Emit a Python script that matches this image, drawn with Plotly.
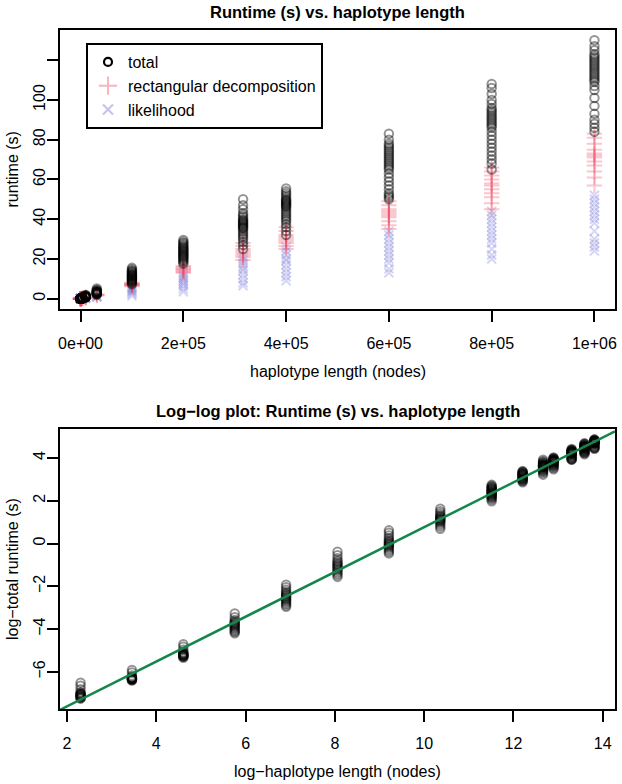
import numpy as np
import plotly.graph_objects as go

# ---------------- data ----------------
lengths = [10, 31.62, 100, 316.2, 1000, 3162, 10000, 31623, 100000, 200000,
           316228, 400000, 600000, 800000, 1000000]

total_runtime = [
    [0.00071, 0.00073, 0.00075, 0.00077, 0.00079, 0.00081, 0.00083, 0.00085, 0.00087,
     0.00089, 0.00092, 0.00096, 0.0011, 0.0013, 0.0015],
    [0.00166, 0.00169, 0.00172, 0.00175, 0.00177, 0.00179, 0.00181, 0.00183, 0.00185,
     0.00188, 0.00191, 0.00195, 0.0021, 0.0024, 0.0027],
    [0.0048, 0.0050, 0.0051, 0.0052, 0.0053, 0.0054, 0.0055, 0.0056, 0.0057, 0.0058,
     0.0060, 0.0063, 0.0070, 0.0080, 0.0090],
    [0.015, 0.016, 0.017, 0.018, 0.019, 0.020, 0.021, 0.022, 0.023, 0.024, 0.025,
     0.026, 0.028, 0.032, 0.038],
    [0.052, 0.056, 0.060, 0.064, 0.068, 0.072, 0.076, 0.080, 0.084, 0.088, 0.093,
     0.098, 0.105, 0.115, 0.13, 0.145],
    [0.21, 0.23, 0.25, 0.27, 0.29, 0.31, 0.33, 0.35, 0.37, 0.39, 0.42, 0.45, 0.50,
     0.58, 0.68],
    [0.63, 0.68, 0.74, 0.80, 0.85, 0.90, 0.94, 0.98, 1.02, 1.07, 1.12, 1.2, 1.3, 1.45,
     1.65, 1.85],
    [2.0, 2.2, 2.4, 2.6, 2.75, 2.9, 3.0, 3.1, 3.2, 3.3, 3.45, 3.6, 3.8, 4.1, 4.5, 5.1],
    [7.2, 7.8, 8.3, 8.7, 9.0, 9.3, 9.6, 9.9, 10.2, 10.5, 10.8, 11.1, 11.4, 11.7,
     12.0, 12.3, 12.6, 13.0, 13.4, 13.8, 14.2, 14.8, 15.5],
    [17.5, 18.3, 19.0, 19.6, 20.2, 20.7, 21.2, 21.7, 22.2, 22.7, 23.2, 23.7, 24.2,
     24.7, 25.2, 25.7, 26.2, 26.8, 27.4, 28.0, 28.7, 29.5],
    [25, 27, 28.5, 30, 31, 32, 33, 34, 35, 35.5, 36, 36.5, 37, 37.5, 38, 38.5, 39,
     39.5, 40, 41, 42, 43, 45, 47, 50],
    [32, 34, 36, 37.5, 39, 40, 41, 42, 43, 44, 45, 46, 46.5, 47, 47.5, 48, 48.5, 49,
     49.5, 50, 51, 52, 53, 54, 55.5],
    [50, 51, 52, 53, 55, 57, 59, 61, 63, 65, 66, 67, 68, 69, 70, 71, 72, 73, 74, 75,
     76, 77, 78, 80, 83],
    [65, 68, 70, 72, 74, 76, 78, 80, 82, 84, 86, 87, 88, 89, 90, 91, 92, 93, 94, 95,
     96, 98, 100, 103, 106, 108],
    [84, 86, 88, 90, 93, 97, 101, 105, 107, 109, 110, 111, 112, 113, 114, 115, 116,
     117, 118, 119, 120, 121, 122, 123, 125, 127, 130],
]

decomp_runtime = [
    [0.0003, 0.0004, 0.0005],
    [0.0008, 0.0009, 0.0010],
    [0.0020, 0.0025, 0.0030],
    [0.008, 0.010, 0.012],
    [0.030, 0.035, 0.040],
    [0.12, 0.15, 0.18],
    [0.45, 0.55, 0.65],
    [1.6, 1.9, 2.2],
    [6.3, 6.6, 6.9, 7.1, 7.3, 7.6, 8.0],
    [13.0, 13.6, 14.2, 14.7, 15.2, 15.8, 16.5],
    [19.5, 21, 22, 23, 24, 25, 26.5, 28],
    [25, 26.5, 28, 29, 30, 31, 32, 34, 36],
    [35, 37, 39, 41, 42, 43, 44, 45, 47, 49],
    [45, 48, 51, 53, 55, 57, 58, 60, 62, 64, 66],
    [57, 61, 64, 67, 69, 71, 72, 73, 75, 78, 81, 83],
]

likelihood_runtime = [
    [0.0002, 0.00025, 0.0003],
    [0.0005, 0.0006, 0.0007],
    [0.0015, 0.0020, 0.0025],
    [0.005, 0.006, 0.007],
    [0.015, 0.020, 0.025],
    [0.06, 0.08, 0.10],
    [0.2, 0.3, 0.4],
    [0.8, 1.0, 1.3],
    [1.5, 2.5, 3.2, 3.8, 4.5, 5.2, 6.0],
    [3.5, 5, 6.5, 7.5, 8.5, 9.5, 10.5, 11.5, 13],
    [6.5, 8, 10, 12, 14, 15, 16.5, 18, 19.5, 21],
    [9, 11, 13, 15, 17, 19, 20, 22, 24, 26],
    [13, 15, 18, 20, 22, 24, 26, 28, 30, 32, 34],
    [20, 22, 25, 28, 30, 32, 34, 36, 38, 40, 42, 44],
    [24, 26, 28, 30, 34, 38, 40, 42, 44, 46, 48, 50, 52],
]

top_x_tickvals = [0, 200000, 400000, 600000, 800000, 1000000]
top_x_ticktext = ["0e+00", "2e+05", "4e+05", "6e+05", "8e+05", "1e+06"]
top_y_tickvals = [0, 20, 40, 60, 80, 100, 120]
top_y_ticktext = ["0", "20", "40", "60", "80", "100", ""]
bot_x_tickvals = [2, 4, 6, 8, 10, 12, 14]
bot_y_tickvals = [-6, -4, -2, 0, 2, 4]
legend_labels = ["total", "rectangular decomposition", "likelihood"]

# ---------------- helpers ----------------
W, H = 622, 784


def flat(series):
    xs, ys = [], []
    for L, vals in zip(lengths, series):
        xs += [L] * len(vals)
        ys += list(vals)
    return np.array(xs, float), np.array(ys, float)


def rrange(a, b):
    d = b - a
    return [a - 0.04 * d, b + 0.04 * d]


def px(x):
    return x / W


def py(y):
    return 1 - y / H


tx, ty = flat(total_runtime)
dx, dy = flat(decomp_runtime)
lx, ly = flat(likelihood_runtime)

logx, logy = np.log(tx), np.log(ty)
slope, intercept = np.polyfit(logx, logy, 1)

BLACK = "rgba(0,0,0,0.42)"
PINK = "rgba(240,70,95,0.30)"
LAV = "rgba(110,110,215,0.28)"
FONT = "Liberation Sans, Arial, sans-serif"

fig = go.Figure()

# top panel (likelihood and decomposition drawn under the totals)
fig.add_trace(go.Scatter(x=lx, y=ly, mode="markers", showlegend=False,
                         marker=dict(symbol="x-thin-open", size=9,
                                     line=dict(color=LAV, width=2), color=LAV),
                         xaxis="x", yaxis="y"))
fig.add_trace(go.Scatter(x=dx, y=dy, mode="markers", showlegend=False,
                         marker=dict(symbol="cross-thin-open", size=11,
                                     line=dict(color=PINK, width=2), color=PINK),
                         xaxis="x", yaxis="y"))
fig.add_trace(go.Scatter(x=tx, y=ty, mode="markers", showlegend=False,
                         marker=dict(symbol="circle-open", size=8.5,
                                     line=dict(color=BLACK, width=2), color=BLACK),
                         xaxis="x", yaxis="y"))

# legend entries
fig.add_trace(go.Scatter(x=[None], y=[None], mode="markers", name=legend_labels[0],
                         marker=dict(symbol="circle-open", size=8,
                                     line=dict(color="black", width=2.2), color="black"),
                         xaxis="x", yaxis="y"))
fig.add_trace(go.Scatter(x=[None], y=[None], mode="markers", name=legend_labels[1],
                         marker=dict(symbol="cross-thin-open", size=13,
                                     line=dict(color="rgba(240,90,110,0.45)", width=2),
                                     color="rgba(240,90,110,0.45)"),
                         xaxis="x", yaxis="y"))
fig.add_trace(go.Scatter(x=[None], y=[None], mode="markers", name=legend_labels[2],
                         marker=dict(symbol="x-thin-open", size=10,
                                     line=dict(color="rgba(120,120,210,0.45)", width=2),
                                     color="rgba(120,120,210,0.45)"),
                         xaxis="x", yaxis="y"))

# bottom panel
BLACK2 = "rgba(0,0,0,0.42)"
fig.add_trace(go.Scatter(x=logx, y=logy, mode="markers", showlegend=False,
                         marker=dict(symbol="circle-open", size=8.5, color=BLACK2,
                                     line=dict(color=BLACK2, width=2)),
                         xaxis="x2", yaxis="y2"))

bx_range = rrange(logx.min(), logx.max())
by_range = rrange(logy.min(), logy.max())
fit_x = np.array(bx_range)
fit_y = intercept + slope * fit_x
fig.add_trace(go.Scatter(x=fit_x, y=fit_y, mode="lines", showlegend=False,
                         line=dict(color="#13874B", width=2.5),
                         xaxis="x2", yaxis="y2"))

all_top = np.concatenate([ty, dy, ly])
tx_range = rrange(min(lengths), max(lengths))
ty_range = rrange(all_top.min(), all_top.max())

axis_common = dict(showline=True, mirror=True, linecolor="black", linewidth=2,
                   ticks="outside", ticklen=11, tickwidth=2, tickcolor="black",
                   showgrid=False, zeroline=False, automargin=False,
                   tickfont=dict(family=FONT, size=16, color="black"))

fig.update_layout(
    width=W, height=H,
    margin=dict(l=0, r=0, t=0, b=0),
    paper_bgcolor="white", plot_bgcolor="white",
    font=dict(family=FONT, size=16, color="black"),
    xaxis=dict(domain=[px(60), px(615)], anchor="y", range=tx_range,
               tickvals=top_x_tickvals, ticktext=top_x_ticktext,
               ticklabelstandoff=8, **axis_common),
    yaxis=dict(domain=[py(309), py(30)], anchor="x", range=ty_range,
               tickvals=top_y_tickvals, ticktext=top_y_ticktext, tickangle=-90,
               ticklabelstandoff=-4, **axis_common),
    xaxis2=dict(domain=[px(60), px(615)], anchor="y2", range=bx_range,
                tickvals=bot_x_tickvals, ticklabelstandoff=8, **axis_common),
    yaxis2=dict(domain=[py(709), py(429)], anchor="x2", range=by_range,
                tickvals=bot_y_tickvals, tickangle=-90, ticklabelstandoff=-4,
                **axis_common),
    legend=dict(x=px(86), y=py(43), xanchor="left", yanchor="top",
                bordercolor="black", borderwidth=2, bgcolor="white",
                font=dict(family=FONT, size=16, color="black"),
                tracegroupgap=0, itemsizing="trace"),
    annotations=[
        dict(text="<b>Runtime (s) vs. haplotype length</b>", x=px(337.5), y=py(12),
             xref="paper", yref="paper", showarrow=False, xanchor="center",
             yanchor="middle", font=dict(family=FONT, size=16.5)),
        dict(text="runtime (s)", x=px(12), y=py(169.5), xref="paper", yref="paper",
             showarrow=False, textangle=-90, xanchor="center", yanchor="middle"),
        dict(text="haplotype length (nodes)", x=px(337.5), y=py(371), xref="paper",
             yref="paper", showarrow=False, xanchor="center", yanchor="middle"),
        dict(text="<b>Log\u2212log plot: Runtime (s) vs. haplotype length</b>",
             x=px(337.5), y=py(411), xref="paper", yref="paper", showarrow=False,
             xanchor="center", yanchor="middle", font=dict(family=FONT, size=16.5)),
        dict(text="log\u2212total runtime (s)", x=px(12), y=py(569), xref="paper",
             yref="paper", showarrow=False, textangle=-90, xanchor="center",
             yanchor="middle"),
        dict(text="log\u2212haplotype length (nodes)", x=px(337.5), y=py(771.5),
             xref="paper", yref="paper", showarrow=False, xanchor="center",
             yanchor="middle"),
    ],
)

fig.write_html("out.html",
               config={"displayModeBar": False},
               post_script="document.body.style.margin='0';"
                           "document.body.style.overflow='hidden';")
